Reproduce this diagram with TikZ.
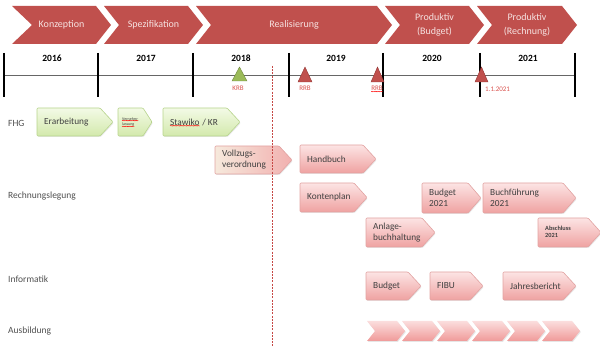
\documentclass[tikz,border=0pt]{standalone}
\usepackage{fontspec}
\setmainfont{Carlito}
\usetikzlibrary{shadows,decorations.pathmorphing}
\definecolor{chev}{HTML}{C0504D}
\definecolor{chevtxt}{HTML}{F6E2E1}
\definecolor{pinktop}{HTML}{FCE4E4}
\definecolor{pinkbot}{HTML}{EFA2A1}
\definecolor{pinkborder}{HTML}{E2A3A2}
\definecolor{greentop}{HTML}{F3FAE6}
\definecolor{greenbot}{HTML}{D3E9AC}
\definecolor{greenborder}{HTML}{B7D48C}
\definecolor{cream}{HTML}{F6E9DC}
\definecolor{txtgray}{HTML}{404040}
\definecolor{rowgray}{HTML}{505050}
\definecolor{lblred}{HTML}{D9534F}
\definecolor{trigreen}{HTML}{9BBB59}
\definecolor{trigreenb}{HTML}{71893F}
\definecolor{trired}{HTML}{C0504D}
\definecolor{triredb}{HTML}{943634}
\newcommand\topchev[5]{%
  \fill[chev] (#2,6) -- (#3-15,6) -- (#3,25) -- (#3-15,44) -- (#2,44) -- (#2+#4,25) -- cycle;
  \node[chevtext] (#1) at ({(#2+#3)/2},25) {#5};
}
\newcommand\abox[7]{%
  \path[#2] (#3,#4) -- (#5-13,#4) -- (#5,{(#4+#6)/2}) -- (#5-13,#6) -- (#3,#6) -- cycle;
  \node[boxtext] (#1) at (#3+7,{(#4+#6)/2}) {#7};
}
\begin{document}
\begin{tikzpicture}[x=1pt,y=-1pt,
  chevtext/.style={text=chevtxt, font=\fontsize{10}{13.5}\selectfont, align=center, inner sep=0},
  year/.style={font=\bfseries\fontsize{9.5}{11}\selectfont, inner sep=0},
  tickline/.style={line width=1.6pt, black},
  pinkbox/.style={top color=pinktop, bottom color=pinkbot, draw=pinkborder, line width=0.6pt, rounded corners=1pt,
     drop shadow={opacity=0.18, shadow xshift=0.8pt, shadow yshift=-1pt}},
  greenbox/.style={top color=greentop, bottom color=greenbot, draw=greenborder, line width=0.6pt, rounded corners=1pt,
     drop shadow={opacity=0.18, shadow xshift=0.8pt, shadow yshift=-1pt}},
  creambox/.style={left color=cream, right color=pinkbot!85, draw=pinkborder, line width=0.6pt, rounded corners=1pt,
     drop shadow={opacity=0.18, shadow xshift=0.8pt, shadow yshift=-1pt}},
  boxtext/.style={anchor=west, align=left, inner sep=0, text=txtgray, font=\fontsize{9.3}{11}\selectfont},
  rowlabel/.style={anchor=west, inner sep=0, text=rowgray, font=\fontsize{9.5}{11}\selectfont},
  smalllbl/.style={inner sep=0, text=lblred, font=\fontsize{7}{8}\selectfont},
  ausb/.style={top color=pinktop!90!pinkbot, bottom color=pinkbot!95!red,
     drop shadow={opacity=0.2, shadow xshift=0.8pt, shadow yshift=-1pt}},
  spell/.style={draw=red, line width=0.3pt, decorate, decoration={snake, amplitude=0.35pt, segment length=1.4pt}}
]
\useasboundingbox (0,0) rectangle (600,347);

% top phase chevrons
\topchev{konz}{12}{111}{20}{Konzeption}
\topchev{spez}{104}{203}{15}{Spezifikation}
\topchev{real}{196}{392}{15}{Realisierung}
\topchev{prodb}{385}{484}{15}{Produktiv\\(Budget)}
\topchev{prodr}{477}{577}{15}{Produktiv\\(Rechnung)}

% timeline
\coordinate (t0) at (4,75);
\coordinate (t6) at (575,75);
\draw[gray!80!black, line width=0.7pt] (t0) -- (t6);
\foreach \x [count=\i] in {4,98,193,289,383,480,575}{
  \coordinate (ta\i) at (\x,53);
  \coordinate (tb\i) at (\x,97);
  \draw[tickline] (ta\i) -- (tb\i);
}
\foreach \x/\y in {52/2016,146/2017,241/2018,336/2019,432/2020,528/2021}{
  \node[year] (y\y) at (\x,58) {\y};
}

% milestones
\fill[trigreen, draw=trigreenb, line width=0.4pt] (232,81) -- (239.5,67) -- (247,81) -- cycle;
\fill[trired, draw=triredb, line width=0.4pt] (298,82) -- (305,67) -- (312,82) -- cycle;
\fill[trired, draw=triredb, line width=0.4pt] (371,82) -- (377.5,67) -- (384,82) -- cycle;
\fill[trired, draw=triredb, line width=0.4pt] (475,82) -- (481.5,67) -- (488,82) -- cycle;
\node[smalllbl] (krb) at (238,88.5) {KRB};
\node[smalllbl] (rrb1) at (305,88.5) {RRB};
\node[smalllbl] (rrb2) at (377,88.5) {RRB};
\draw[spell] ([yshift=-0.6pt]rrb2.south west) -- ([yshift=-0.6pt]rrb2.south east);
\node[smalllbl, anchor=west] (d2021) at (485,89) {1.1.2021};

% row labels
\node[rowlabel] (fhg) at (8,123) {FHG};
\node[rowlabel] (rl) at (8,196) {Rechnungslegung};
\node[rowlabel] (inf) at (8,279) {Informatik};
\node[rowlabel] (ausbl) at (8,331) {Ausbildung};

% FHG
\abox{erarb}{greenbox}{37}{108}{113}{136}{Erarbeitung}
\path[greenbox] (118,108) -- (143,108) -- (152,122) -- (143,136) -- (118,136) -- cycle;
\node[boxtext, font=\fontsize{4}{4.6}\selectfont] (vern1) at (122,119) {Vernehm-};
\node[boxtext, font=\fontsize{4}{4.6}\selectfont] (vern2) at (122,124.5) {lassung};
\draw[spell] (vern1.south west) -- (vern1.south east);
\draw[spell] (vern2.south west) -- (vern2.south east);
\path[greenbox] (163,108) -- (227,108) -- (240,122) -- (227,136) -- (163,136) -- cycle;
\node[boxtext] (stawiko) at (170,122) {Stawiko};
\node[boxtext, anchor=base west] (kr) at ([xshift=2.4pt]stawiko.base east) {/ KR};
\draw[spell] ([yshift=-0.3pt]stawiko.south west) -- ([yshift=-0.3pt]stawiko.south east);

% Rechnungslegung
\abox{vollz}{creambox}{215}{146}{292}{174}{Vollzugs-\\verordnung}
\abox{handb}{pinkbox}{300}{145}{376}{173}{Handbuch}
\abox{konto}{pinkbox}{300}{183}{367}{212}{Kontenplan}
\abox{bud21}{pinkbox}{422}{183}{481}{213}{Budget\\2021}
\abox{buch21}{pinkbox}{483}{183}{576}{213}{Buchführung\\2021}
\abox{anlage}{pinkbox}{366}{218}{435}{247}{Anlage-\\buchhaltung}
\path[pinkbox] (538,218) -- (588,218) -- (601,232.5) -- (588,247) -- (538,247) -- cycle;
\node[boxtext, font=\bfseries\fontsize{6.3}{7.5}\selectfont] (absch) at (545,232) {Abschluss\\2021};

% Informatik
\abox{budg}{pinkbox}{366}{272}{421}{300}{Budget}
\abox{fibu}{pinkbox}{430}{272}{483}{300}{FIBU}
\abox{jahr}{pinkbox}{503}{272}{576}{300}{Jahresbericht}

% Ausbildung
\foreach \i in {0,...,5}{
  \pgfmathsetmacro\xa{367+35*\i}
  \path[ausb] (\xa,321) -- (\xa+30,321) -- (\xa+38,331) -- (\xa+30,341) -- (\xa,341) -- (\xa+8,331) -- cycle;
}

% today line
\coordinate (dtop) at (272,66);
\coordinate (dbot) at (272,347);
\draw[chev!90!red, line width=0.9pt, dash pattern=on 2pt off 1.2pt] (dtop) -- (dbot);
\end{tikzpicture}
\end{document}
